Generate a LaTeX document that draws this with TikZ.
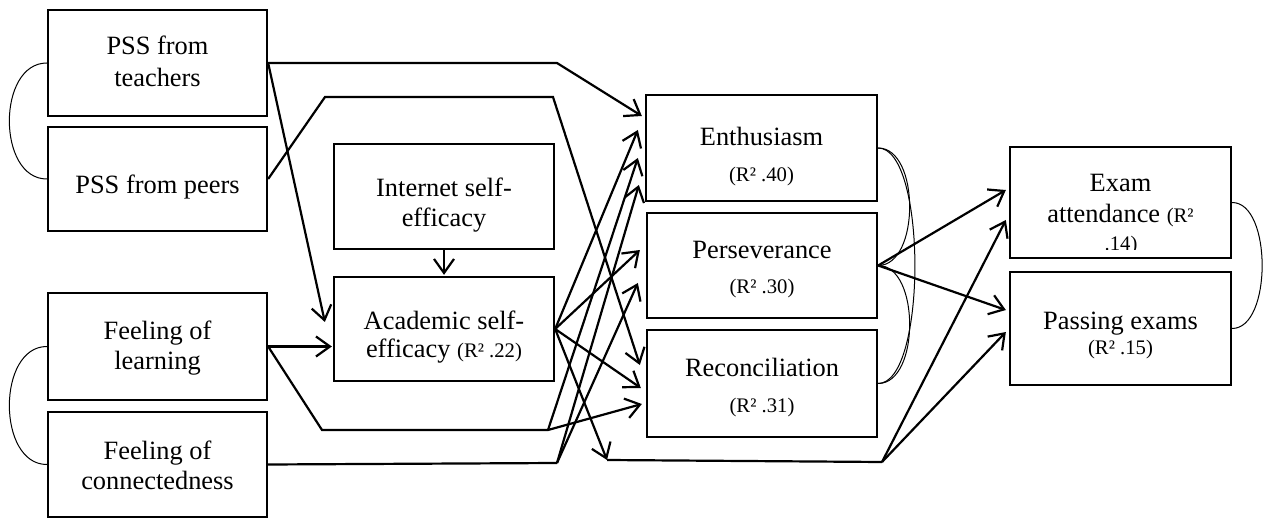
\documentclass[tikz,border=0pt]{standalone}
\usepackage{fontspec}
\setmainfont{Liberation Serif}
\usetikzlibrary{arrows.meta}
\tikzset{
  box/.style={draw, line width=2.3pt, inner sep=0pt},
  lbl/.style={anchor=base, inner sep=0pt, font=\fontsize{26.4pt}{30pt}\selectfont},
  rsq/.style={anchor=base, inner sep=0pt, font=\fontsize{20.7pt}{24pt}\selectfont},
  lnk/.style={line width=2.2pt},
  arr/.style={line width=2.2pt, -{Straight Barb[length=14pt,width=20pt,line width=2.2pt]}},
  cov/.style={line width=1pt},
}
\newcommand{\rsqtext}[1]{{\fontsize{20.7pt}{24pt}\selectfont #1}}
\begin{document}
\begin{tikzpicture}[x=1pt,y=-1pt]
\path[use as bounding box, fill=white] (0,0) rectangle (1263,518);

% boxes
\node[box, minimum width=219pt, minimum height=106pt] (teach) at (157.5,63) {};
\node[box, minimum width=219pt, minimum height=104pt] (peer)  at (157.5,179) {};
\node[box, minimum width=219pt, minimum height=107pt] (learn) at (157.5,346.5) {};
\node[box, minimum width=219pt, minimum height=105pt] (conn)  at (157.5,464.5) {};
\node[box, minimum width=220pt, minimum height=105pt] (inet)  at (444,196.5) {};
\node[box, minimum width=220pt, minimum height=104pt] (acad)  at (444,329) {};
\node[box, minimum width=231pt, minimum height=106pt] (enth)  at (761.5,148) {};
\node[box, minimum width=230pt, minimum height=105pt] (pers)  at (762,265.5) {};
\node[box, minimum width=230pt, minimum height=107pt] (reco)  at (762,383.5) {};
\node[box, minimum width=221pt, minimum height=111pt] (exam)  at (1120.5,202.5) {};
\node[box, minimum width=221pt, minimum height=113pt] (pass)  at (1120.5,328.5) {};

% texts
\node[lbl] (teachA) at (157.5,55) {PSS from};
\node[lbl] (teachB) at (157.5,87) {teachers};
\node[lbl] (peerA)  at (157.5,194) {PSS from peers};
\node[lbl] (learnA) at (157.5,340) {Feeling of};
\node[lbl] (learnB) at (157.5,370) {learning};
\node[lbl] (connA)  at (157.5,459) {Feeling of};
\node[lbl] (connB)  at (157.5,489) {connectedness};
\node[lbl] (inetA)  at (444,197) {Internet self-};
\node[lbl] (inetB)  at (444,227) {efficacy};
\node[lbl] (acadA)  at (444,330) {Academic self-};
\node[lbl] (acadB)  at (444,358) {efficacy \rsqtext{(R² .22)}};
\node[lbl] (enthA)  at (761.5,146) {Enthusiasm};
\node[rsq] (enthB)  at (761.5,182) {(R² .40)};
\node[lbl] (persA)  at (762,259) {Perseverance};
\node[rsq] (persB)  at (762,294) {(R² .30)};
\node[lbl] (recoA)  at (762,377) {Reconciliation};
\node[rsq] (recoB)  at (762,412) {(R² .31)};
\node[lbl] (examA)  at (1120.5,192) {Exam};
\node[lbl] (examB)  at (1120.5,223) {attendance \rsqtext{(R²}};
\begin{scope}
  \clip (1012,236) rectangle (1229,249.5);
  \node[rsq] (examC) at (1121,251) {.14)};
\end{scope}
\node[lbl] (passA)  at (1120.5,330) {Passing exams};
\node[rsq] (passB)  at (1120.5,355) {(R² .15)};

% bend points
\coordinate (b1) at (557,63);
\coordinate (b2a) at (325,97);
\coordinate (b2b) at (553,97);
\coordinate (b3) at (322,430);
\coordinate (b4) at (548,430);
\coordinate (b5) at (557,463);
\coordinate (b6) at (607,460);
\coordinate (b7) at (882,462);

% connectors
\draw[arr] (teach.east) -- (b1) -- ([xshift=-3pt,yshift=32pt]enth.west);
\draw[arr] (teach.east) -- ([xshift=-8pt,yshift=7pt]acad.west);
\draw[arr] (peer.east) -- (b2a) -- (b2b) -- ([xshift=-6pt,yshift=18.5pt]reco.west);
\draw[arr, shorten >=1pt] (inet.south) -- (acad.north);
\draw[arr, shorten >=1pt] (learn.east) -- (learn.east -| acad.west);
\draw[lnk] (learn.east) -- (b3) -- (b4);
\draw[arr] (b4) -- ([xshift=-7pt,yshift=-10pt]enth.west);
\draw[arr] (b4) -- ([xshift=-4pt,yshift=-20.5pt]reco.west);
\draw[lnk] (conn.east) -- (b5);
\draw[arr] (b5) -- ([xshift=-6pt,yshift=-37pt]enth.west);
\draw[arr] (b5) -- ([xshift=-8pt,yshift=-17.5pt]pers.west);
\draw[arr] (acad.east) -- ([xshift=-7pt,yshift=18pt]enth.west);
\draw[arr] (acad.east) -- ([xshift=-6pt,yshift=15.5pt]pers.west);
\draw[arr] (acad.east) -- ([xshift=-5pt,yshift=-4.5pt]reco.west);
\draw[arr] (acad.east) -- (b6);
\draw[lnk] (b6) -- (b7);
\draw[arr] (b7) -- ([xshift=-3pt,yshift=-17.5pt]exam.west);
\draw[arr] (b7) -- ([xshift=-3pt,yshift=-3.5pt]pass.west);
\draw[arr] (pers.east) -- ([xshift=-3pt,yshift=12.5pt]exam.west);
\draw[arr] (pers.east) -- ([xshift=-3pt,yshift=18.5pt]pass.west);

% covariances
\draw[cov] (teach.west) .. controls +(-50,0) and +(-50,0) .. (peer.west);
\draw[cov] (learn.west) .. controls +(-50,0) and +(-50,0) .. (conn.west);
\draw[cov] (enth.east) .. controls +(49,0) and +(49,0) .. (reco.east);
\draw[cov] (enth.east) .. controls +(42,0) and +(42,0) .. (pers.east);
\draw[cov] (pers.east) .. controls +(42,0) and +(42,0) .. (reco.east);
\draw[cov] (exam.east) .. controls +(40,0) and +(40,0) .. (pass.east);
\end{tikzpicture}
\end{document}
